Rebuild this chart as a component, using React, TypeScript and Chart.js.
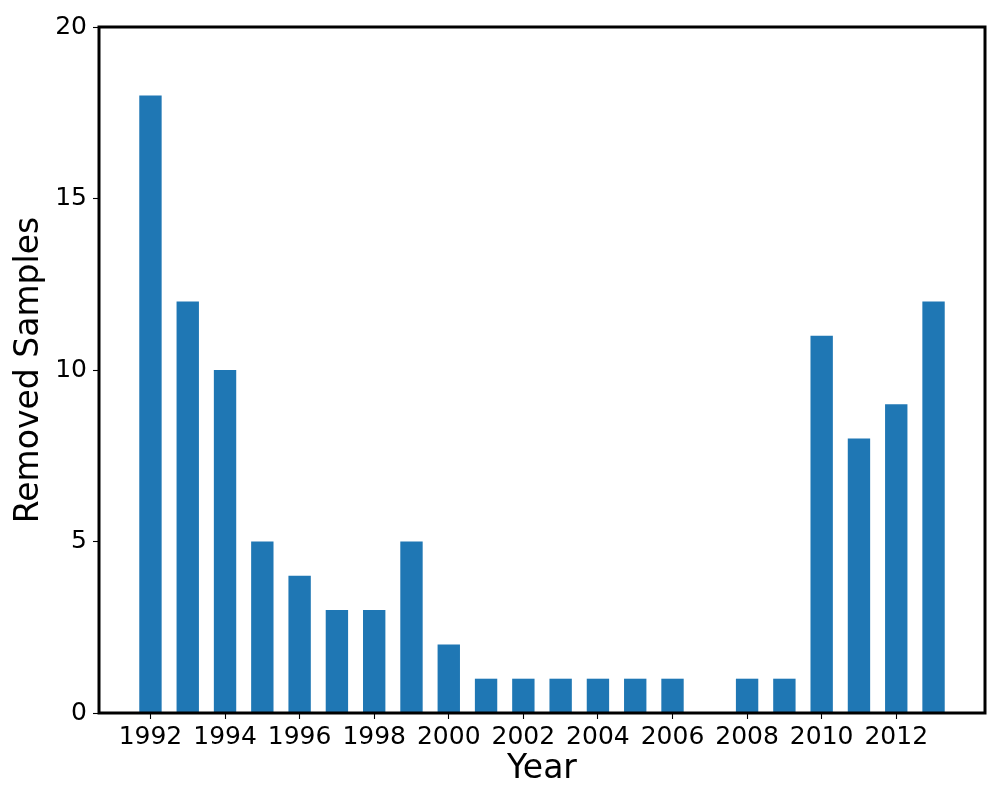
import React, { useEffect, useRef } from "react";
import { Chart, registerables } from "chart.js";

Chart.register(...registerables);

const years: number[] = [1992, 1993, 1994, 1995, 1996, 1997, 1998, 1999, 2000, 2001, 2002, 2003, 2004, 2005, 2006, 2007, 2008, 2009, 2010, 2011, 2012, 2013];
const removedSamples: number[] = [18, 12, 10, 5, 4, 3, 3, 5, 2, 1, 1, 1, 1, 1, 1, 0, 1, 1, 11, 8, 9, 12];
const xTickYears: number[] = [1992, 1994, 1996, 1998, 2000, 2002, 2004, 2006, 2008, 2010, 2012];
const yTicks: number[] = [0, 5, 10, 15, 20];

const FONT = "'DejaVu Sans', sans-serif";

const framePlugin = {
  id: "frame",
  afterDraw(chart: any) {
    const { ctx, chartArea } = chart;
    ctx.save();
    ctx.strokeStyle = "#000";
    ctx.lineWidth = 3;
    ctx.strokeRect(chartArea.left, chartArea.top, chartArea.right - chartArea.left, chartArea.bottom - chartArea.top);
    ctx.restore();
  },
};

export default function App() {
  const ref = useRef<HTMLCanvasElement | null>(null);
  useEffect(() => {
    if (!ref.current) return;
    const chart = new Chart(ref.current, {
      type: "bar",
      data: {
        datasets: [
          {
            label: "Removed Samples",
            data: years.map((y, i) => ({ x: y, y: removedSamples[i] })),
            backgroundColor: "#1f77b4",
            borderWidth: 0,
            categoryPercentage: 1,
            barPercentage: 0.6,
          },
        ],
      },
      options: {
        responsive: false,
        animation: false,
        events: [],
        layout: { padding: { top: 27, right: 15, left: 0, bottom: 0 } },
        plugins: { legend: { display: false }, tooltip: { enabled: false } },
        scales: {
          x: {
            type: "linear",
            min: 1990.62,
            max: 2014.38,
            offset: false,
            afterFit(scale: any) {
              scale.height = 87;
            },
            afterBuildTicks(scale: any) {
              scale.ticks = xTickYears.map((v) => ({ value: v }));
            },
            grid: {
              display: true,
              offset: false,
              drawOnChartArea: false,
              drawTicks: true,
              tickLength: 6,
              tickWidth: 1.1,
              tickColor: "#000",
            },
            border: { display: false },
            ticks: {
              font: { family: FONT, size: 25 },
              color: "#000",
              padding: 3,
              maxRotation: 0,
              autoSkip: false,
              callback: (v: any) => String(v),
            },
            title: {
              display: true,
              text: "Year",
              font: { family: FONT, size: 33, lineHeight: 1 },
              color: "#000",
              padding: { top: 0, bottom: 14 },
            },
          },
          y: {
            min: 0,
            max: 20,
            afterFit(scale: any) {
              scale.width = 99;
            },
            afterBuildTicks(scale: any) {
              scale.ticks = yTicks.map((v) => ({ value: v }));
            },
            grid: {
              display: true,
              drawOnChartArea: false,
              drawTicks: true,
              tickLength: 6,
              tickWidth: 1.1,
              tickColor: "#000",
            },
            border: { display: false },
            ticks: {
              font: { family: FONT, size: 25 },
              color: "#000",
              padding: 6,
              callback: (v: any) => String(v),
            },
            title: {
              display: true,
              text: "Removed Samples",
              font: { family: FONT, size: 33, lineHeight: 1 },
              color: "#000",
              padding: { top: 13, bottom: 0 },
            },
          },
        },
      },
      plugins: [framePlugin],
    });
    return () => chart.destroy();
  }, []);
  return (
    <div style={{ position: "absolute", left: 0, top: 0, width: 1000, height: 800, background: "#fff" }}>
      <canvas ref={ref} width={1000} height={800} style={{ display: "block" }} />
    </div>
  );
}
